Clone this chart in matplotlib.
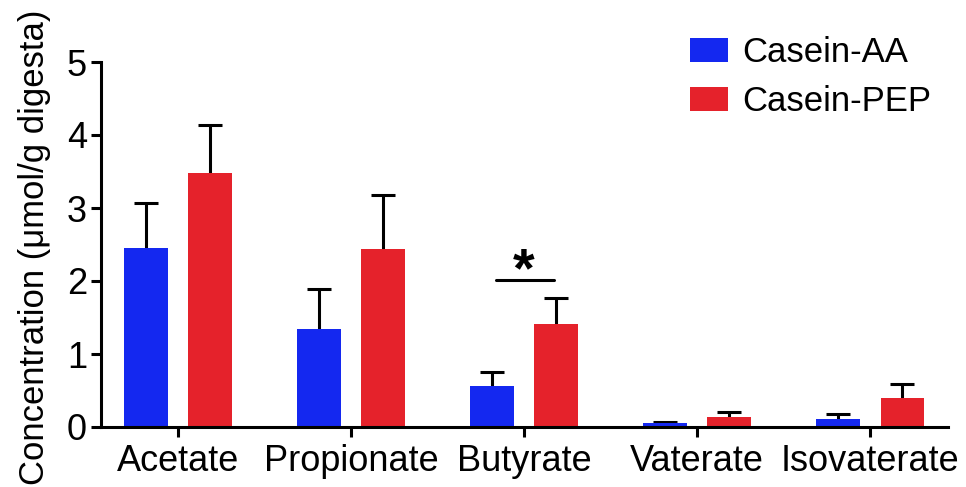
import matplotlib
matplotlib.use("Agg")
import matplotlib.pyplot as plt
import numpy as np

plt.rcParams['font.family'] = ['Liberation Sans', 'DejaVu Sans']

categories = ["Acetate", "Propionate", "Butyrate", "Vaterate", "Isovaterate"]
aa_mean = [2.45, 1.34, 0.56, 0.05, 0.11]
aa_err = [0.62, 0.55, 0.19, 0.02, 0.07]
pep_mean = [3.48, 2.44, 1.41, 0.14, 0.40]
pep_err = [0.66, 0.74, 0.36, 0.06, 0.19]
series_names = ["Casein-AA", "Casein-PEP"]
yticks = [0, 1, 2, 3, 4, 5]

blue = "#1428F0"
red = "#E5222B"

fig = plt.figure(figsize=(9.66, 4.87), dpi=100)
ax = fig.add_axes([101/966, 60/487, (948-101)/966, (427-62)/487])

x = np.arange(len(categories))
w = 0.25
off = 0.185
ekw = dict(fmt="none", elinewidth=2.2, capthick=2.2, ecolor="black", capsize=8.5, zorder=1)
ax.bar(x - off, aa_mean, w, color=blue, label=series_names[0], zorder=2)
ax.bar(x + off, pep_mean, w, color=red, label=series_names[1], zorder=2)
for xs, m, e in [(x - off, aa_mean, aa_err), (x + off, pep_mean, pep_err)]:
    eb = ax.errorbar(xs, m, yerr=[np.zeros(len(e)), e], **ekw)
    eb[1][0].set_visible(False)  # hide lower caps

ax.set_xlim(-0.445, 4.45)
ax.set_ylim(0, 5)
ax.set_yticks(yticks)
ax.set_xticks(x)
ax.set_xticklabels(categories)
ax.tick_params(axis='both', labelsize=26, width=2.2, length=7, color='black')
ax.tick_params(axis='x', pad=5)
ax.tick_params(axis='y', pad=3)
for s in ["top", "right"]:
    ax.spines[s].set_visible(False)
for s in ["left", "bottom"]:
    ax.spines[s].set_linewidth(2.2)
ax.set_ylabel("Concentration (μmol/g digesta)", fontsize=24.9)
ax.yaxis.set_label_coords(-0.059, 0.493)

# significance marker
bi = 2
ax.plot([bi - off + 0.02, bi + off - 0.01], [2.01, 2.01], color="black", lw=2.2, solid_capstyle='round')
ax.text(bi, 1.76, "*", ha="center", va="bottom", fontsize=40, fontweight="bold")

leg = fig.legend(loc="upper left", bbox_to_anchor=(690/966, (487-36)/487), frameon=False,
                 fontsize=25, handlelength=1.1, handleheight=0.66, labelspacing=0.47,
                 handletextpad=0.4, borderpad=0, borderaxespad=0)

fig.savefig("out.png", dpi=100)
